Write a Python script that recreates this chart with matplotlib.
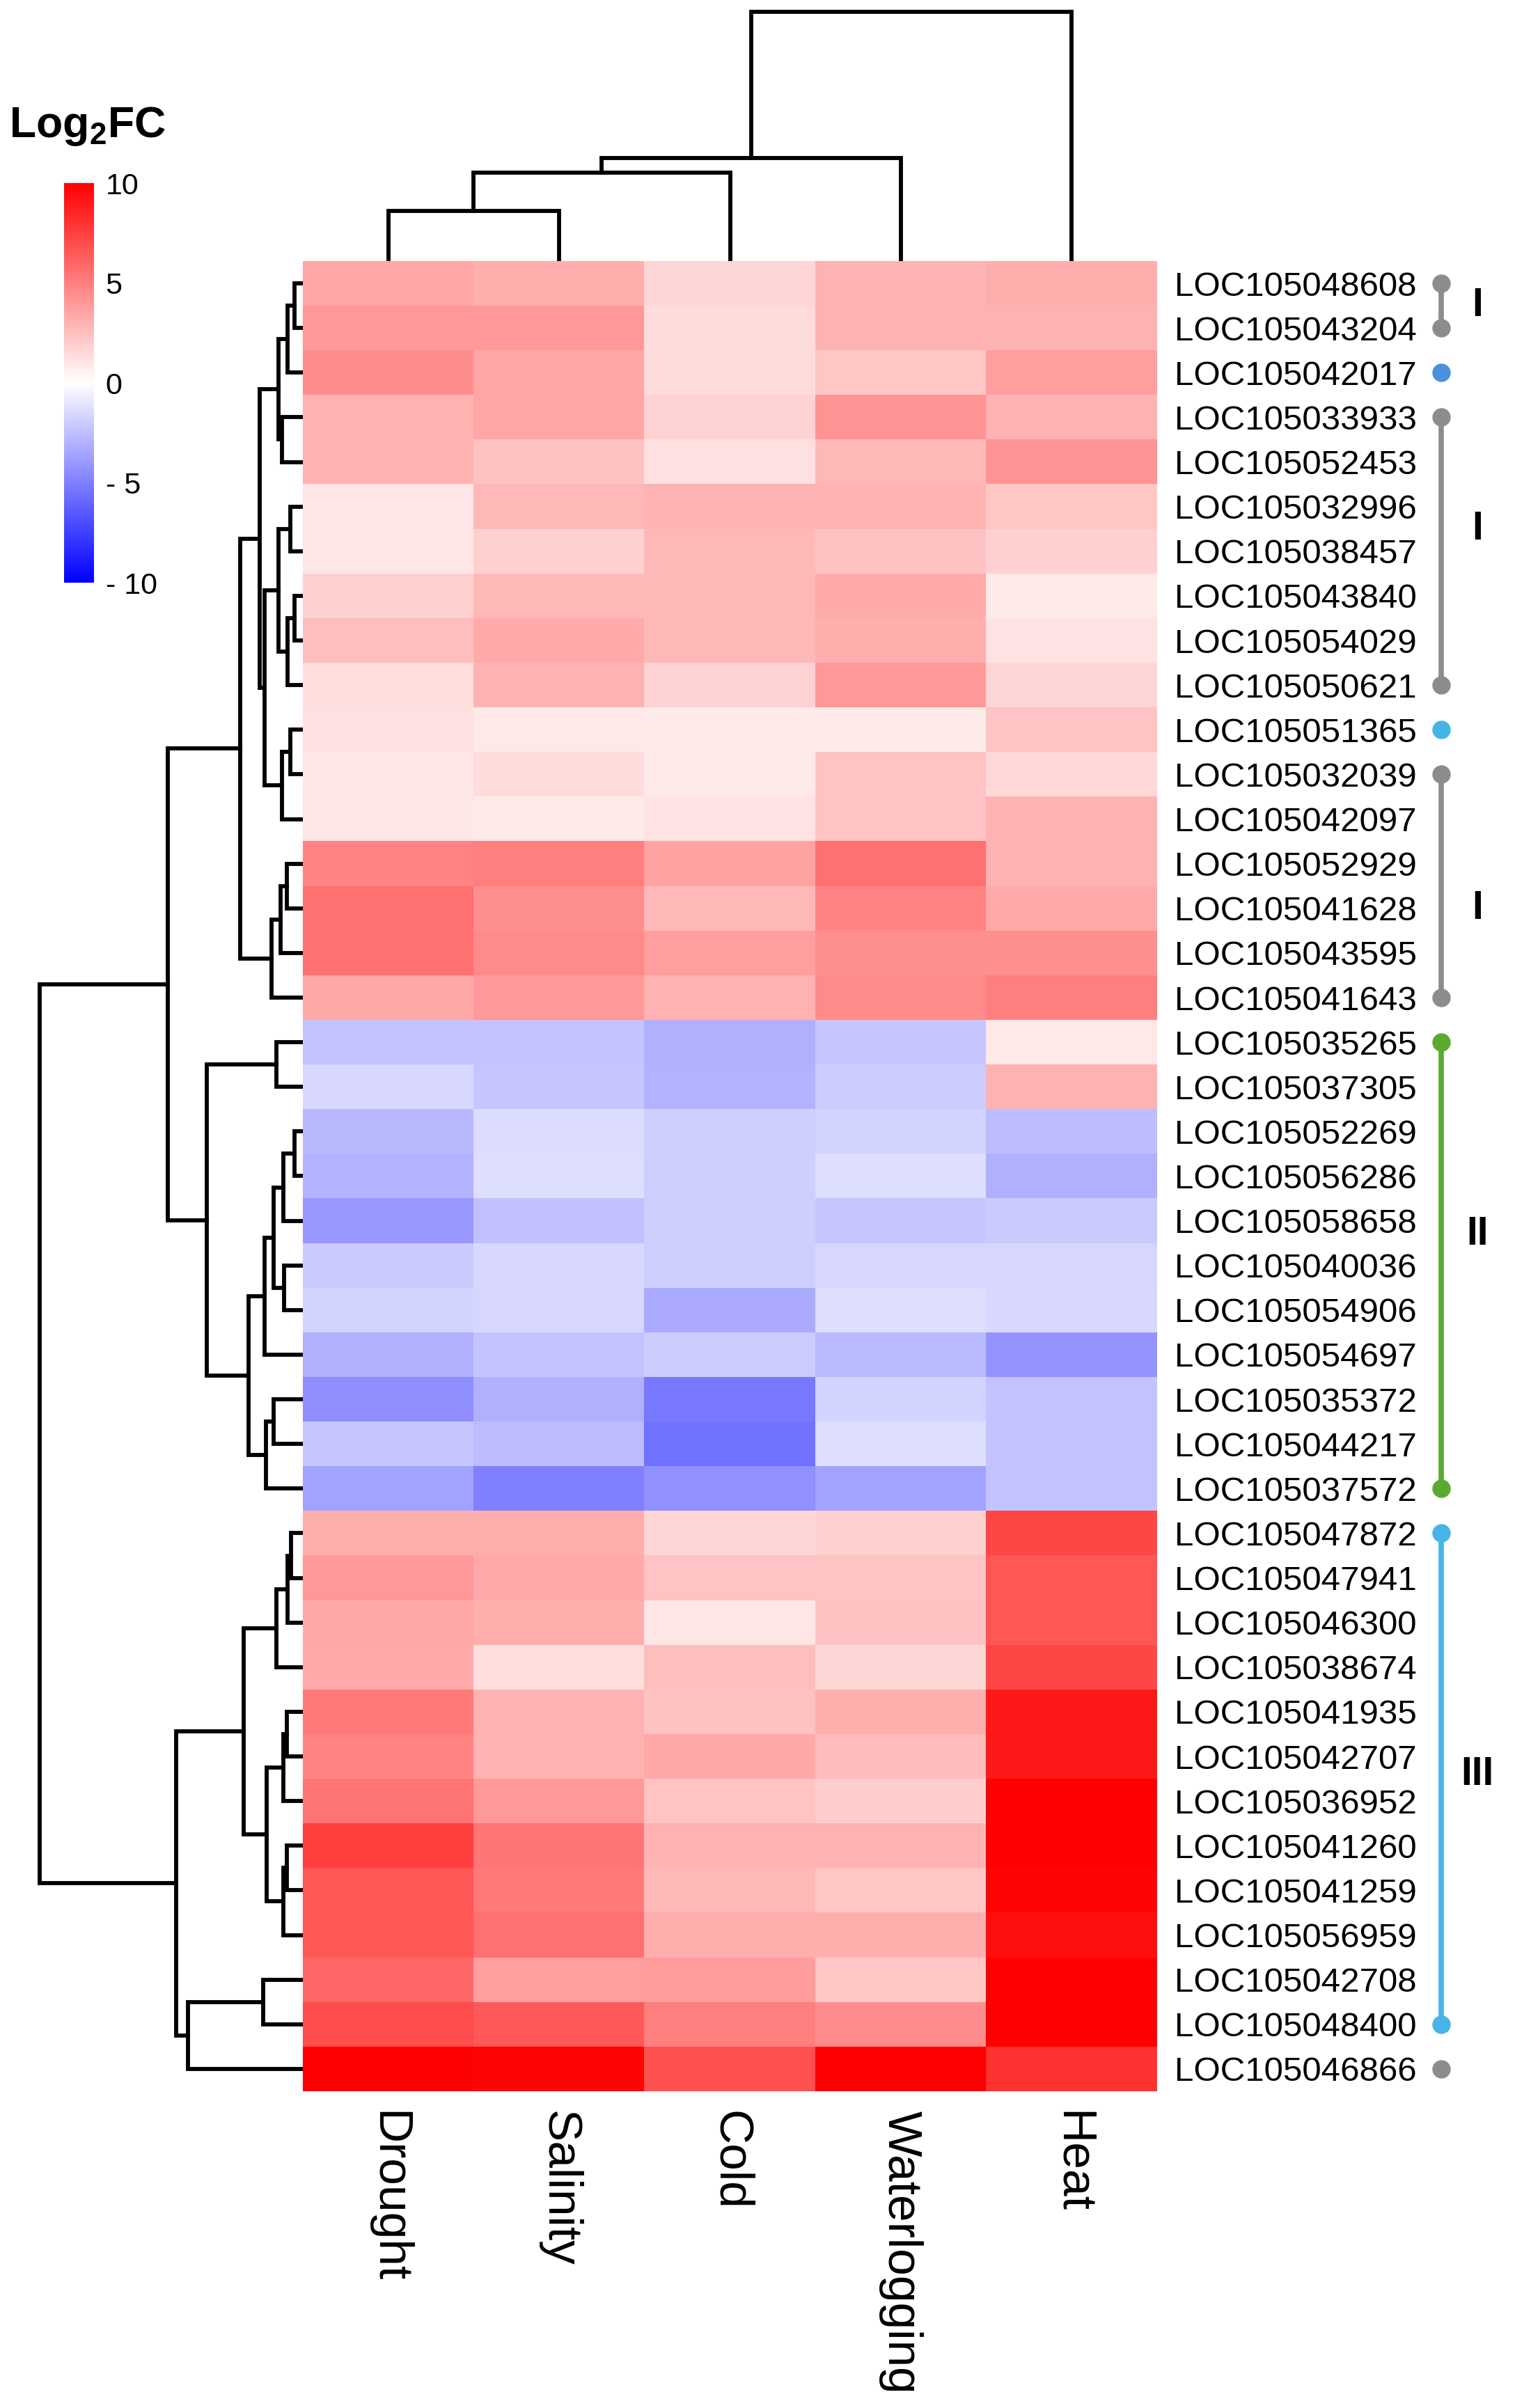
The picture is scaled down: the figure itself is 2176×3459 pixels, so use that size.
import numpy as np
import matplotlib
matplotlib.use("Agg")
import matplotlib.pyplot as plt

plt.rcParams['font.family'] = ['Liberation Sans', 'DejaVu Sans']
plt.rcParams['mathtext.fontset'] = 'custom'
plt.rcParams['mathtext.rm'] = 'Liberation Sans'
plt.rcParams['mathtext.bf'] = 'Liberation Sans:bold'

# ---- data ----
conditions = ['Drought', 'Salinity', 'Cold', 'Waterlogging', 'Heat']
genes = ['LOC105048608', 'LOC105043204', 'LOC105042017', 'LOC105033933', 'LOC105052453',
         'LOC105032996', 'LOC105038457', 'LOC105043840', 'LOC105054029', 'LOC105050621',
         'LOC105051365', 'LOC105032039', 'LOC105042097', 'LOC105052929', 'LOC105041628',
         'LOC105043595', 'LOC105041643', 'LOC105035265', 'LOC105037305', 'LOC105052269',
         'LOC105056286', 'LOC105058658', 'LOC105040036', 'LOC105054906', 'LOC105054697',
         'LOC105035372', 'LOC105044217', 'LOC105037572', 'LOC105047872', 'LOC105047941',
         'LOC105046300', 'LOC105038674', 'LOC105041935', 'LOC105042707', 'LOC105036952',
         'LOC105041260', 'LOC105041259', 'LOC105056959', 'LOC105042708', 'LOC105048400',
         'LOC105046866']

# log2 fold change, columns follow `conditions`
log2fc = np.array([
    [3.5, 3.2, 1.6, 3.0, 3.2],
    [4.0, 4.0, 1.4, 3.0, 3.0],
    [4.5, 3.5, 1.4, 2.2, 3.8],
    [3.0, 3.5, 1.7, 4.2, 3.0],
    [3.0, 2.4, 1.2, 2.8, 4.2],
    [1.0, 2.8, 3.0, 3.0, 2.2],
    [1.0, 1.8, 2.8, 2.4, 1.8],
    [1.8, 2.8, 2.8, 3.3, 0.8],
    [2.5, 3.3, 2.8, 3.2, 1.1],
    [1.3, 3.0, 1.7, 4.0, 1.6],
    [1.2, 0.9, 0.8, 0.8, 2.3],
    [1.0, 1.4, 0.8, 2.3, 1.5],
    [1.0, 0.8, 1.1, 2.3, 3.0],
    [4.8, 5.0, 3.6, 5.6, 3.0],
    [5.6, 4.4, 2.8, 4.8, 3.3],
    [5.6, 4.6, 3.8, 4.4, 4.4],
    [3.4, 4.0, 3.0, 4.6, 5.0],
    [-2.3, -2.3, -3.1, -2.2, 0.9],
    [-1.5, -2.2, -3.0, -2.0, 3.0],
    [-2.8, -1.4, -1.9, -1.7, -2.6],
    [-3.0, -1.3, -1.9, -1.3, -3.1],
    [-4.0, -2.5, -1.9, -2.2, -2.1],
    [-2.1, -1.5, -1.9, -1.6, -1.6],
    [-1.7, -1.6, -3.3, -1.3, -1.5],
    [-3.1, -2.3, -2.0, -2.7, -4.2],
    [-4.4, -3.1, -5.3, -1.7, -2.3],
    [-2.2, -2.6, -5.5, -1.3, -2.3],
    [-3.6, -5.0, -4.3, -3.6, -2.3],
    [3.2, 3.2, 1.6, 1.8, 7.2],
    [4.0, 3.3, 2.3, 2.3, 6.6],
    [3.4, 3.2, 1.0, 2.4, 6.6],
    [3.3, 1.3, 2.5, 1.6, 7.2],
    [5.2, 3.0, 2.4, 3.2, 9.0],
    [4.8, 3.0, 3.4, 2.6, 9.0],
    [5.4, 4.0, 2.3, 2.0, 10.0],
    [7.5, 5.4, 3.0, 3.0, 10.0],
    [6.6, 5.2, 2.8, 2.2, 9.8],
    [6.6, 5.6, 3.2, 3.2, 9.4],
    [6.0, 3.8, 3.9, 2.2, 10.0],
    [7.0, 6.5, 5.0, 4.5, 10.0],
    [10.0, 9.8, 6.8, 10.0, 8.0],
])

# linkage tables (scipy style: id1, id2, height); new cluster id = n_leaves + row
row_linkage = [
    (0, 1, 12), (41, 2, 22), (3, 4, 30), (42, 43, 35),
    (5, 6, 18), (7, 8, 12), (46, 9, 22), (45, 47, 35),
    (10, 11, 18), (49, 12, 30), (48, 50, 55), (44, 51, 62),
    (13, 14, 23), (53, 15, 32), (54, 16, 45), (52, 55, 90),
    (17, 18, 38), (19, 20, 12), (58, 21, 28), (22, 23, 27),
    (59, 60, 42), (61, 24, 55), (25, 26, 42), (63, 27, 53),
    (62, 64, 78), (57, 65, 138), (56, 66, 194),
    (28, 29, 17), (68, 30, 22), (69, 31, 38), (32, 33, 23),
    (71, 34, 28), (35, 36, 23), (73, 37, 28), (72, 74, 52),
    (70, 75, 85), (38, 39, 57), (77, 40, 165), (76, 78, 182),
    (67, 79, 378),
]
col_linkage = [(0, 1, 72), (5, 2, 127), (6, 3, 148), (7, 4, 358)]

# gene groups (first row, last row) and their marks
group_rows = [(0, 1), (2, 2), (3, 9), (10, 10), (11, 16), (17, 27), (28, 39), (40, 40)]
group_colors = ['#8c8c8c', '#4a90dc', '#8c8c8c', '#45b5e8', '#8c8c8c',
                '#5aaa32', '#48b4e6', '#8c8c8c']
group_names = ['I', 'I', 'I', 'II', 'III']
name_rows = [0.5, 5.5, 14.0, 21.3, 33.4]

cbar_ticks = [10, 5, 0, -5, -10]
cbar_labels = ['10', '5', '0', '- 5', '- 10']

# ---- layout ----
W, H = 2176, 3459
fig = plt.figure(figsize=(W / 100, H / 100), dpi=100)


def box(x0, y0, x1, y1):
    return [x0 / W, 1 - y1 / H, (x1 - x0) / W, (y1 - y0) / H]


def dendro_segments(linkage, n):
    pos = {i: float(i) for i in range(n)}
    hgt = {i: 0.0 for i in range(n)}
    segs = []
    for k, (a, b, h) in enumerate(linkage):
        segs.append(([hgt[a], h, h, hgt[b]], [pos[a], pos[a], pos[b], pos[b]]))
        pos[n + k] = (pos[a] + pos[b]) / 2
        hgt[n + k] = h
    return segs


n_rows, n_cols = log2fc.shape
hx0, hx1, hy0, hy1 = 435, 1662, 375, 3004

ax = fig.add_axes(box(hx0, hy0, hx1, hy1))
im = ax.imshow(log2fc, cmap='bwr', vmin=-10, vmax=10, aspect='auto',
               interpolation='nearest')
ax.set_xlim(-0.5, n_cols - 0.5)
ax.set_ylim(n_rows - 0.5, -0.5)
for s in ax.spines.values():
    s.set_visible(False)
ax.yaxis.tick_right()
ax.set_yticks(range(n_rows))
ax.set_yticklabels(genes, fontsize=35.5)
ax.set_xticks(range(n_cols))
ax.set_xticklabels(conditions, fontsize=50, rotation=270, ha='center', va='top')
ax.tick_params(axis='y', length=0, pad=18)
ax.tick_params(axis='x', length=0, pad=20)

# row dendrogram
axr = fig.add_axes(box(35, hy0, hx0, hy1))
for xs, ys in dendro_segments(row_linkage, n_rows):
    axr.plot(xs, ys, color='black', lw=4.2, solid_joinstyle='miter')
axr.set_xlim(400, 0)
axr.set_ylim(n_rows - 0.5, -0.5)
axr.axis('off')

# column dendrogram
axc = fig.add_axes(box(hx0, 8, hx1, hy0))
for hs, ps in dendro_segments(col_linkage, n_cols):
    axc.plot(ps, hs, color='black', lw=4.2, solid_joinstyle='miter')
axc.set_xlim(-0.5, n_cols - 0.5)
axc.set_ylim(0, 367)
axc.axis('off')

# group brackets
axb = fig.add_axes(box(hx1, hy0, W, hy1))
axb.set_xlim(hx1, W)
axb.set_ylim(n_rows - 0.5, -0.5)
axb.axis('off')
bx = 2070
for (r0, r1), c in zip(group_rows, group_colors):
    if r1 > r0:
        axb.plot([bx, bx], [r0, r1], color=c, lw=5.5, solid_capstyle='butt')
        axb.plot([bx, bx], [r0, r1], 'o', color=c, ms=18)
    else:
        axb.plot([bx], [r0], 'o', color=c, ms=18)
for name, r in zip(group_names, name_rows):
    axb.text(2122, r, name, fontsize=41, fontweight='bold', ha='center', va='center')

# colour legend
cax = fig.add_axes(box(92, 263, 135, 837))
cb = fig.colorbar(im, cax=cax, ticks=cbar_ticks)
cb.set_ticklabels(cbar_labels)
cb.outline.set_visible(False)
cax.tick_params(length=0, pad=12, labelsize=31)
fig.text(13 / W, 1 - 197 / H, r'Log$_\mathbf{2}$FC', fontsize=45, fontweight='bold',
         ha='left', va='baseline')

fig.savefig('out.png', dpi=100)
